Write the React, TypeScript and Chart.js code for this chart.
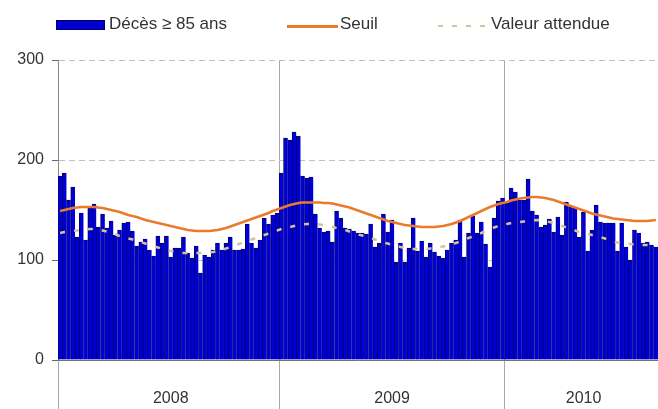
import React, { useEffect, useRef } from 'react';
import { Chart, registerables } from 'chart.js';

Chart.register(...registerables);

// ---- data ----
const YEARS = ['2008', '2009', '2010'];
const WEEKS_IN_YEAR = [52, 53, 36];

const DECES_85 = [
  // 2008
  184, 187, 160, 173, 123, 147, 120, 152, 156, 133,
  146, 132, 139, 125, 130, 137, 138, 129, 114, 118,
  121, 110, 104, 124, 117, 124, 103, 112, 112, 123,
  107, 102, 114, 87, 105, 103, 110, 117, 110, 117,
  123, 110, 110, 111, 136, 117, 112, 120, 142, 136,
  145, 147,
  // 2009
  187, 222, 220, 228, 224, 184, 182, 183, 146, 132,
  128, 129, 118, 149, 142, 132, 131, 129, 127, 127,
  126, 136, 113, 117, 146, 128, 140, 98, 117, 98,
  112, 142, 109, 119, 103, 117, 108, 104, 102, 110,
  117, 120, 140, 103, 127, 144, 127, 138, 116, 93,
  142, 159, 162,
  // 2010
  157, 172, 168, 160, 160, 181, 149, 145, 133, 135,
  141, 128, 143, 125, 158, 154, 152, 123, 148, 109,
  130, 155, 138, 137, 137, 137, 109, 137, 113, 100,
  130, 127, 117, 118, 115, 113,
];

const SEUIL = [
  149, 150, 151, 152, 152.5, 153, 153, 153, 153, 152.5,
  152, 151, 150, 149, 148, 146.5, 145, 144, 143, 141.5,
  140, 139, 138, 137, 136, 135, 134, 133, 132, 131,
  130, 129.5, 129, 129, 129, 129, 129.5, 130, 131, 132,
  133.5, 135, 136.5, 138, 139.5, 141, 142.5, 144, 145.5, 147,
  149, 150.5, 152, 153.5, 155, 156, 157, 157.5, 157.5, 157.5,
  157.5, 157.5, 157, 157, 156.5, 155.5, 154.5, 153.5, 152.5, 151,
  149.5, 148, 146.5, 145, 143.5, 142, 140.5, 139, 138, 137,
  136, 135, 134.5, 134, 133.5, 133, 133, 133, 133, 133.5,
  134, 135, 136, 137.5, 139, 141, 143, 145, 147, 149,
  151, 153, 154.5, 156, 157, 158, 159.5, 160.5, 161.5, 162,
  162.5, 163, 163, 162.5, 162, 161, 160, 158.5, 157, 155.5,
  154, 152.5, 151, 149.5, 148, 146.5, 145.5, 144.5, 143.5, 142.5,
  141.5, 141, 140.5, 140, 139.5, 139, 139, 139, 139, 139.5,
  140,
];

const VALEUR_ATTENDUE = [
  127, 128, 128.5, 129, 129.5, 130, 130.5, 131, 131, 130.5,
  129.5, 128.5, 127, 125.5, 124, 123, 121.5, 120.5, 119, 118,
  116.5, 115, 113.5, 112.5, 111, 110, 109, 108, 107.5, 107,
  107, 107, 107, 107, 107, 107.5, 108, 109, 110, 111.5,
  113, 114.5, 116, 117.5, 119, 120.5, 122, 123.5, 125, 126.5,
  128, 129.5, 131, 132, 133, 134, 135, 135.5, 136, 136,
  136, 135.5, 135, 134, 133, 132, 131, 130, 128.5, 127,
  125.5, 124.5, 123, 122, 120.5, 119, 117.5, 116.5, 115, 114,
  113, 112, 111.5, 111, 111, 111, 111, 111.5, 112, 113,
  113.5, 114.5, 115.5, 117, 118.5, 120, 122, 123.5, 125, 127,
  129, 131, 132.5, 134, 135, 136, 137, 137.5, 138, 138.5,
  139, 139.5, 140, 139.5, 139, 138, 137, 135.5, 134, 132.5,
  131, 129.5, 128, 127, 126, 125, 124, 123, 121.5, 120,
  118.5, 117.5, 117, 116.5, 116, 115.5, 115, 115, 115, 115,
  115,
];

const Y_MIN = 0;
const Y_MAX = 300;
const Y_STEP = 100;

// week labels & year markers derived from the year/week arrays
const WEEK_LABELS: string[] = [];
const YEAR_START: number[] = [];
const YEAR_LABEL_AT: Record<number, string> = {};
{
  let k = 0;
  YEARS.forEach((y, yi) => {
    YEAR_START.push(k);
    YEAR_LABEL_AT[k + Math.floor(WEEKS_IN_YEAR[yi] / 2)] = y;
    for (let w = 1; w <= WEEKS_IN_YEAR[yi]; w++) {
      WEEK_LABELS.push(`${y}-S${String(w).padStart(2, '0')}`);
      k++;
    }
  });
}

// ---- styles ----
const FONT = '"Liberation Sans", Arial, Helvetica, sans-serif';
const TEXT = '#333333';
const BAR_FILL = '#0000d2';
const BAR_EDGE = '#000068';
const SEUIL_COLOR = '#ea7b2c';
const ATT_COLOR = '#d6c29a';
const SEP_COLOR = '#a8a8a8';

export default function App() {
  const ref = useRef<HTMLCanvasElement>(null);

  useEffect(() => {
    const canvas = ref.current;
    if (!canvas) return;
    const sepColor = (ctx: any) =>
      YEAR_START.includes(ctx.index) ? SEP_COLOR : 'rgba(0,0,0,0)';

    const chart = new Chart(canvas, {
      type: 'bar',
      data: {
        labels: WEEK_LABELS,
        datasets: [
          {
            type: 'line',
            label: 'Seuil',
            data: SEUIL,
            borderColor: SEUIL_COLOR,
            backgroundColor: SEUIL_COLOR,
            borderWidth: 2.5,
            pointRadius: 0,
            tension: 0,
            fill: false,
            order: 0,
          },
          {
            type: 'line',
            label: 'Valeur attendue',
            data: VALEUR_ATTENDUE,
            borderColor: ATT_COLOR,
            backgroundColor: ATT_COLOR,
            borderWidth: 2.5,
            borderDash: [5, 9],
            pointRadius: 0,
            tension: 0,
            fill: false,
            order: 1,
          },
          {
            type: 'bar',
            label: 'Décès ≥ 85 ans',
            data: DECES_85,
            backgroundColor: BAR_FILL,
            borderColor: BAR_EDGE,
            borderWidth: { top: 1, left: 1, right: 0, bottom: 0 },
            borderSkipped: 'bottom',
            barPercentage: 1,
            categoryPercentage: 1,
            order: 2,
          },
        ] as any,
      },
      options: {
        responsive: false,
        animation: false,
        layout: { padding: { top: 60, left: 0, right: 0, bottom: 0 } },
        plugins: {
          legend: { display: false },
          tooltip: { enabled: false },
        },
        scales: {
          x: {
            type: 'category',
            offset: true,
            grid: {
              offset: true,
              color: sepColor,
              tickColor: sepColor,
              tickLength: 49,
              lineWidth: 1,
              drawOnChartArea: true,
              drawTicks: true,
            },
            border: { display: true, color: '#707070' },
            ticks: {
              autoSkip: false,
              maxRotation: 0,
              minRotation: 0,
              padding: -20,
              color: TEXT,
              font: { family: FONT, size: 16 },
              callback: (_v: any, i: number) => YEAR_LABEL_AT[i] ?? '',
            },
            afterFit: (s: any) => {
              s.height = 49;
            },
          },
          y: {
            min: Y_MIN,
            max: Y_MAX,
            ticks: {
              stepSize: Y_STEP,
              padding: 8,
              color: TEXT,
              font: { family: FONT, size: 16 },
            },
            grid: {
              color: (ctx: any) => (ctx.tick && ctx.tick.value === 0 ? 'rgba(0,0,0,0)' : '#c0c0c0'),
              tickColor: '#666666',
              tickLength: 6,
              tickBorderDash: [],
              lineWidth: 1,
            },
            border: { display: true, color: '#8a8a8a', dash: [6, 4] },
            afterFit: (s: any) => {
              s.width = 58;
            },
          },
        },
      } as any,
    });
    return () => chart.destroy();
  }, []);

  const legText: React.CSSProperties = {
    position: 'absolute',
    top: 14,
    fontSize: 17,
    lineHeight: '19px',
    color: TEXT,
    whiteSpace: 'nowrap',
    fontFamily: FONT,
  };

  return (
    <div
      style={{
        position: 'fixed',
        left: 0,
        top: 0,
        width: 658,
        height: 409,
        background: '#ffffff',
        overflow: 'hidden',
      }}
    >
      <canvas ref={ref} width={658} height={409} style={{ display: 'block' }} />
      <div
        style={{
          position: 'absolute',
          left: 56,
          top: 20,
          width: 47,
          height: 8,
          background: BAR_FILL,
          border: `1px solid ${BAR_EDGE}`,
        }}
      />
      <span style={{ ...legText, left: 109 }}>Décès ≥ 85 ans</span>
      <div
        style={{
          position: 'absolute',
          left: 287,
          top: 25,
          width: 51,
          height: 3,
          background: SEUIL_COLOR,
        }}
      />
      <span style={{ ...legText, left: 340 }}>Seuil</span>
      <div
        style={{
          position: 'absolute',
          left: 438,
          top: 25,
          width: 52,
          height: 2,
          background: `repeating-linear-gradient(to right, ${ATT_COLOR} 0px, ${ATT_COLOR} 5px, transparent 5px, transparent 14px)`,
        }}
      />
      <span style={{ ...legText, left: 491 }}>Valeur attendue</span>
    </div>
  );
}
